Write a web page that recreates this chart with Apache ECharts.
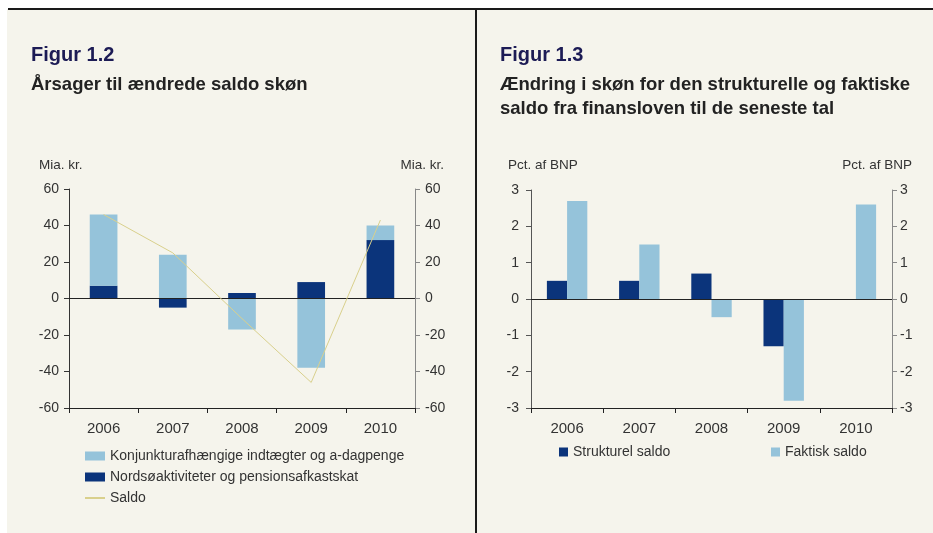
<!DOCTYPE html>
<html>
<head>
<meta charset="utf-8">
<script src="https://cdn.jsdelivr.net/npm/echarts@6/dist/echarts.min.js"></script>
<style>
  html, body { margin: 0; padding: 0; background: #ffffff; }
  #main { width: 933px; height: 533px; }
</style>
</head>
<body>
<div id="main"></div>
<script>
// kategorier (år)
var years = ['2006', '2007', '2008', '2009', '2010'];

// Figur 1.2 - mia. kr.
var konjunktur = [39, 24, -17, -38, 8];
var nordsoe = [7, -5, 3, 9, 32];
var saldo = [46, 25, -11, -46, 43];

// Figur 1.3 - pct. af BNP
var strukturel = [0.5, 0.5, 0.7, -1.3, 0];
var faktisk = [2.7, 1.5, -0.5, -2.8, 2.6];

var FONT = 'Arial, "Liberation Sans", sans-serif';
var LIGHT = '#95c3da';
var DARK = '#0b347b';
var SALDO = '#d9d08c';
var TXT = '#333333';

var myChart = echarts.init(document.getElementById('main'));

function yAx(grid, pos, min, max, step, lineColor, margin) {
  return {
    type: 'value', gridIndex: grid, position: pos,
    min: min, max: max, interval: step,
    axisLine: { show: true, lineStyle: { color: lineColor, width: 1 } },
    axisTick: { show: true, length: 5, lineStyle: { color: lineColor } },
    axisLabel: { color: TXT, fontSize: 14, fontFamily: FONT, margin: margin },
    splitLine: { show: false }
  };
}

function xAx(grid) {
  return {
    type: 'category', gridIndex: grid, data: years,
    position: 'bottom',
    axisLine: { onZero: false, lineStyle: { color: '#222', width: 1 } },
    axisTick: { show: true, length: 5, lineStyle: { color: '#222' } },
    axisLabel: { color: TXT, fontSize: 15, fontFamily: FONT, margin: 13 }
  };
}

var zeroLine = {
  silent: true, symbol: 'none',
  label: { show: false },
  lineStyle: { color: '#222', width: 1, type: 'solid' },
  data: [{ yAxis: 0 }]
};

function txt(size, bold, color) {
  return { color: color, fontSize: size, fontWeight: bold ? 'bold' : 'normal', fontFamily: FONT };
}

option = {
  animation: false,
  backgroundColor: '#ffffff',
  textStyle: { fontFamily: FONT },
  graphic: [
    { type: 'rect', z: -10, shape: { x: 7, y: 9, width: 926, height: 524 }, style: { fill: '#f5f4ec' } },
    { type: 'line', z: -9, shape: { x1: 8, y1: 9, x2: 933, y2: 9 }, style: { stroke: '#1a1a1a', lineWidth: 2 } },
    { type: 'line', z: -9, shape: { x1: 476, y1: 9, x2: 476, y2: 533 }, style: { stroke: '#1a1a1a', lineWidth: 2 } }
  ],
  title: [
    { text: 'Figur 1.2', left: 26, top: 40, textStyle: txt(20, true, '#1c1b55') },
    { text: 'Årsager til ændrede saldo skøn', left: 26, top: 70, textStyle: txt(18.5, true, '#222') },
    { text: 'Mia. kr.', left: 34, top: 153, textStyle: txt(13.5, false, TXT) },
    { text: 'Mia. kr.', right: 484, top: 153, textStyle: txt(13.5, false, TXT) },
    { text: 'Figur 1.3', left: 495, top: 40, textStyle: txt(20, true, '#1c1b55') },
    { text: 'Ændring i skøn for den strukturelle og faktiske\nsaldo fra finansloven til de seneste tal', left: 495, top: 68,
      textStyle: { color: '#222', fontSize: 18.5, fontWeight: 'bold', fontFamily: FONT, lineHeight: 24 } },
    { text: 'Pct. af BNP', left: 503, top: 153, textStyle: txt(13.5, false, TXT) },
    { text: 'Pct. af BNP', right: 16, top: 153, textStyle: txt(13.5, false, TXT) }
  ],
  legend: [
    {
      orient: 'vertical', left: 80, top: 444, itemWidth: 20, itemHeight: 9, itemGap: 7,
      textStyle: { color: TXT, fontSize: 14, fontFamily: FONT },
      data: [
        { name: 'Konjunkturafhængige indtægter og a-dagpenge', icon: 'rect' },
        { name: 'Nordsøaktiviteter og pensionsafkastskat', icon: 'rect' },
        { name: 'Saldo', icon: 'path://M0,0 L40,0 L40,4 L0,4 Z' }
      ]
    },
    {
      left: 554, top: 440, itemWidth: 9, itemHeight: 9,
      textStyle: { color: TXT, fontSize: 14, fontFamily: FONT },
      data: [{ name: 'Strukturel saldo', icon: 'rect' }]
    },
    {
      left: 766, top: 440, itemWidth: 9, itemHeight: 9,
      textStyle: { color: TXT, fontSize: 14, fontFamily: FONT },
      data: [{ name: 'Faktisk saldo', icon: 'rect' }]
    }
  ],
  grid: [
    { left: 69, right: 518, top: 189, bottom: 125 },
    { left: 531, right: 41, top: 190, bottom: 125 }
  ],
  xAxis: [xAx(0), xAx(1)],
  yAxis: [
    yAx(0, 'left', -60, 60, 20, '#333', 10),
    yAx(0, 'right', -60, 60, 20, '#888', 10),
    yAx(1, 'left', -3, 3, 1, '#555', 12),
    yAx(1, 'right', -3, 3, 1, '#888', 8)
  ],
  series: [
    {
      name: 'Nordsøaktiviteter og pensionsafkastskat', type: 'bar', stack: 'a',
      xAxisIndex: 0, yAxisIndex: 0, barWidth: '40%',
      itemStyle: { color: DARK }, data: nordsoe,
      markLine: zeroLine
    },
    {
      name: 'Konjunkturafhængige indtægter og a-dagpenge', type: 'bar', stack: 'a',
      xAxisIndex: 0, yAxisIndex: 0, barWidth: '40%',
      itemStyle: { color: LIGHT }, data: konjunktur
    },
    {
      name: 'Saldo', type: 'line', xAxisIndex: 0, yAxisIndex: 1,
      symbol: 'none', z: 5,
      lineStyle: { color: SALDO, width: 1 }, itemStyle: { color: SALDO },
      data: saldo
    },
    {
      name: 'Strukturel saldo', type: 'bar', xAxisIndex: 1, yAxisIndex: 2,
      barWidth: '28%', barGap: '0%',
      itemStyle: { color: DARK }, data: strukturel,
      markLine: zeroLine
    },
    {
      name: 'Faktisk saldo', type: 'bar', xAxisIndex: 1, yAxisIndex: 2,
      barWidth: '28%', barGap: '0%',
      itemStyle: { color: LIGHT }, data: faktisk
    }
  ]
};

myChart.setOption(option);
</script>
</body>
</html>
